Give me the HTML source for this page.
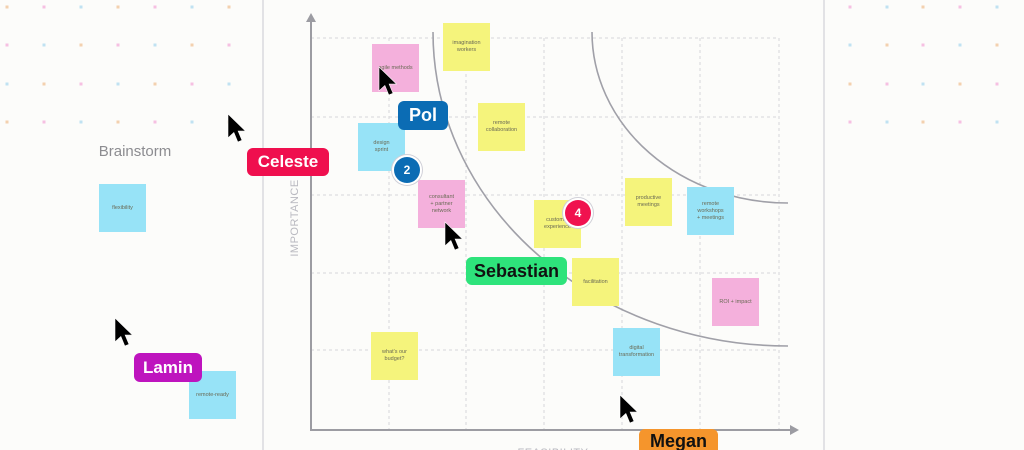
<!DOCTYPE html>
<html><head><meta charset="utf-8"><style>
html,body{margin:0;padding:0;width:1024px;height:450px;overflow:hidden}
body{background:#fcfcfa;position:relative;font-family:"Liberation Sans",sans-serif}
.s{position:absolute;width:47px;height:48px;display:flex;align-items:center;justify-content:center;text-align:center;font-size:5.5px;line-height:7px;color:#6a6a55}
.y{background:#f5f47c}.p{background:#f4b0dc}.b{background:#97e3f7}
.l{position:absolute;border-radius:6px;color:#fff;font-weight:bold;display:flex;align-items:center;justify-content:center;font-size:17px}
.c{position:absolute;border-radius:50%;color:#fff;font-weight:bold;font-size:12px;display:flex;align-items:center;justify-content:center;box-shadow:0 0 0 2px #fff,0 0 0 3px #d0d0d8}
svg{position:absolute;left:0;top:0}
</style></head><body>
<svg width="1024" height="450">
<g id="dots" opacity="0.7"></g>
<line x1="263" y1="0" x2="263" y2="450" stroke="#dadade" stroke-width="1.5"/>
<line x1="824" y1="0" x2="824" y2="450" stroke="#dadade" stroke-width="1.5"/>
<g stroke="#d6d6da" stroke-width="1" stroke-dasharray="3 3" fill="none">
<line x1="311" y1="38" x2="779" y2="38"/>
<line x1="311" y1="117" x2="779" y2="117"/>
<line x1="311" y1="195" x2="779" y2="195"/>
<line x1="311" y1="273" x2="779" y2="273"/>
<line x1="311" y1="350" x2="779" y2="350"/>
<line x1="389" y1="38" x2="389" y2="430"/>
<line x1="466" y1="38" x2="466" y2="430"/>
<line x1="544" y1="38" x2="544" y2="430"/>
<line x1="622" y1="38" x2="622" y2="430"/>
<line x1="700" y1="38" x2="700" y2="430"/>
<line x1="779" y1="38" x2="779" y2="430"/>
</g>
<g stroke="#a0a0a8" stroke-width="1.6" fill="none">
<path d="M433 32 A355 314 0 0 0 788 346"/>
<path d="M592 32 A196 171 0 0 0 788 203"/>
</g>
<line x1="311" y1="20" x2="311" y2="430" stroke="#9c9ca2" stroke-width="2"/>
<line x1="310" y1="430" x2="791" y2="430" stroke="#9c9ca2" stroke-width="2"/>
<polygon points="311,13 306,22 316,22" fill="#9c9ca2"/>
<polygon points="799,430 790,425 790,435" fill="#9c9ca2"/>
<text x="0" y="0" transform="translate(298,218) rotate(-90)" text-anchor="middle" font-family="Liberation Sans" font-size="11" fill="#b9b9c0" letter-spacing="0.5">IMPORTANCE</text>
<text x="553" y="456" text-anchor="middle" font-family="Liberation Sans" font-size="11" fill="#b9b9c0" letter-spacing="0.5">FEASIBILITY</text>
<text x="135" y="156" text-anchor="middle" font-family="Liberation Sans" font-size="15" fill="#8c8c90">Brainstorm</text>
</svg>

<div class="s p" style="left:372px;top:44px">agile methods</div>
<div class="s y" style="left:443px;top:23px">imagination<br>workers</div>
<div class="s y" style="left:478px;top:103px">remote<br>collaboration</div>
<div class="s b" style="left:358px;top:123px">design<br>sprint</div>
<div class="s p" style="left:418px;top:180px">consultant<br>+ partner<br>network</div>
<div class="s y" style="left:534px;top:200px">customer<br>experience</div>
<div class="s y" style="left:572px;top:258px">facilitation</div>
<div class="s y" style="left:625px;top:178px">productive<br>meetings</div>
<div class="s b" style="left:687px;top:187px">remote<br>workshops<br>+ meetings</div>
<div class="s p" style="left:712px;top:278px">ROI + impact</div>
<div class="s b" style="left:613px;top:328px">digital<br>transformation</div>
<div class="s y" style="left:371px;top:332px">what's our<br>budget?</div>
<div class="s b" style="left:99px;top:184px">flexibility</div>
<div class="s b" style="left:189px;top:371px">remote-ready</div>

<div class="c" style="left:394px;top:157px;width:26px;height:26px;background:#0b6cb4">2</div>
<div class="c" style="left:565px;top:200px;width:26px;height:26px;background:#f0124f">4</div>

<div class="l" style="left:398px;top:101px;width:50px;height:29px;background:#0b6cb4;font-size:18px">Pol</div>
<div class="l" style="left:247px;top:148px;width:82px;height:28px;background:#ef0f4e">Celeste</div>
<div class="l" style="left:134px;top:353px;width:68px;height:29px;background:#be14be">Lamin</div>
<div class="l" style="left:466px;top:257px;width:101px;height:28px;background:#2ee37b;color:#111;font-size:18px">Sebastian</div>
<div class="l" style="left:639px;top:429px;width:79px;height:30px;background:#f5952c;color:#111;font-size:18px;align-items:flex-start;padding-top:2px;box-sizing:border-box">Megan</div>

<svg width="1024" height="450">
<defs><path id="cur" d="M0 0 L0 17 L4.2 13.2 L7 20 L10 18.8 L7.2 12.2 L12.5 12.2 Z" fill="#000" stroke="#fff" stroke-width="0.4"/></defs>
<use href="#cur" transform="translate(228,114) scale(1.4)"/>
<use href="#cur" transform="translate(379,67) scale(1.4)"/>
<use href="#cur" transform="translate(445,222) scale(1.4)"/>
<use href="#cur" transform="translate(115,318) scale(1.4)"/>
<use href="#cur" transform="translate(620,395) scale(1.4)"/>
</svg>
<script>
(function(){
var g=document.getElementById('dots');var ns='http://www.w3.org/2000/svg';
var cols=['#f0c090','#f4a8d8','#a8d8f0'];
var xs1=[7,44,81,118,155,192,229],xs2=[850,887,923,960,997],ys=[7,45,84,122];
function add(x,y,c){var r=document.createElementNS(ns,'rect');r.setAttribute('x',x-1.5);r.setAttribute('y',y-1.5);r.setAttribute('width',3);r.setAttribute('height',3);r.setAttribute('fill',c);g.appendChild(r);}
ys.forEach(function(y,i){xs1.forEach(function(x,j){add(x,y,cols[(i+j)%3]);});xs2.forEach(function(x,j){add(x,y,cols[(i+j+1)%3]);});});
})();
</script>
</body></html>
